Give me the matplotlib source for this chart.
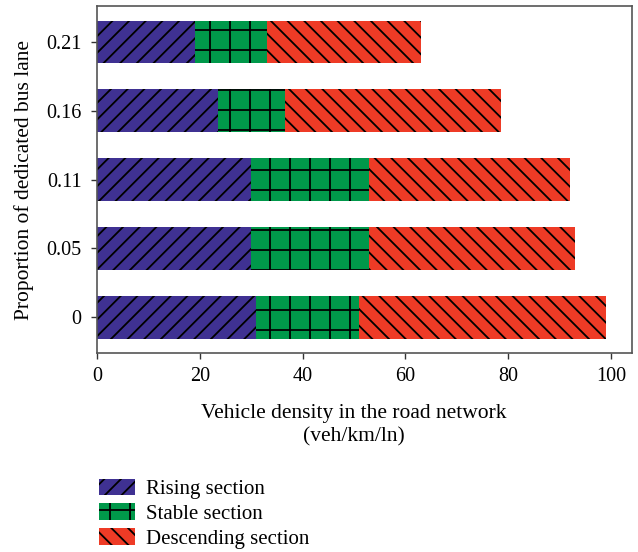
import matplotlib
matplotlib.use('Agg')
import matplotlib.pyplot as plt
import matplotlib.hatch as mhatch
import numpy as np

plt.rcParams['font.family'] = ['Liberation Serif', 'DejaVu Serif']
plt.rcParams['hatch.linewidth'] = 1.3


# sparser grid for the '+' hatch (reference has wide cells)
class SparseHorizontal(mhatch.HorizontalHatch):
    def __init__(self, hatch, density):
        super().__init__(hatch, density)
        self.num_lines = self.num_lines * 5 // 6
        self.num_vertices = self.num_lines * 2


class SparseVertical(mhatch.VerticalHatch):
    def __init__(self, hatch, density):
        super().__init__(hatch, density)
        self.num_lines = self.num_lines * 5 // 6
        self.num_vertices = self.num_lines * 2


mhatch._hatch_types = [SparseHorizontal if t is mhatch.HorizontalHatch else
                       SparseVertical if t is mhatch.VerticalHatch else t
                       for t in mhatch._hatch_types]

categories = ['0', '0.05', '0.11', '0.16', '0.21']
rising = [31, 30, 30, 23.5, 19]
stable = [20, 23, 23, 13, 14]
descending = [48, 40, 39, 42, 30]

fig = plt.figure(figsize=(6.38, 5.52), dpi=100)
ax = fig.add_axes([0.152, 0.3605, 0.838, 0.6285])

y = np.arange(len(categories))
h = 0.62
left2 = np.array(rising)
left3 = left2 + np.array(stable)
ax.barh(y, rising, height=h, color='#3f3192', edgecolor='black', linewidth=0,
        hatch='//', label='Rising section')
ax.barh(y, stable, height=h, left=left2, color='#00984a', edgecolor='black', linewidth=0,
        hatch='+', label='Stable section')
ax.barh(y, descending, height=h, left=left3, color='#ee3b26', edgecolor='black', linewidth=0,
        hatch='\\\\', label='Descending section')

ax.set_xlim(0, 104)
ax.set_ylim(-0.52, 4.52)
ax.set_yticks(y)
ax.set_yticklabels(categories)
ax.set_xticks([0, 20, 40, 60, 80, 100])
ax.tick_params(labelsize=14.5, direction='out', length=4, width=1, color='#333333')
ax.tick_params(axis='x', pad=6)
ax.tick_params(axis='y', pad=7)
for s in ax.spines.values():
    s.set_color('#555555')
    s.set_linewidth(1.2)

ax.set_xlabel('Vehicle density in the road network\n(veh/km/ln)', fontsize=15.5,
              labelpad=13, linespacing=1.3)
ax.xaxis.label.set_x(50 / 104)
ax.set_ylabel('Proportion of dedicated bus lane', fontsize=15.5, labelpad=9)

fig.legend(loc='upper left', bbox_to_anchor=(0.142, 0.148), frameon=False, fontsize=15,
           handlelength=1.75, handleheight=0.85, labelspacing=0.2, handletextpad=0.5,
           borderaxespad=0)

fig.savefig('out.png', dpi=100)
